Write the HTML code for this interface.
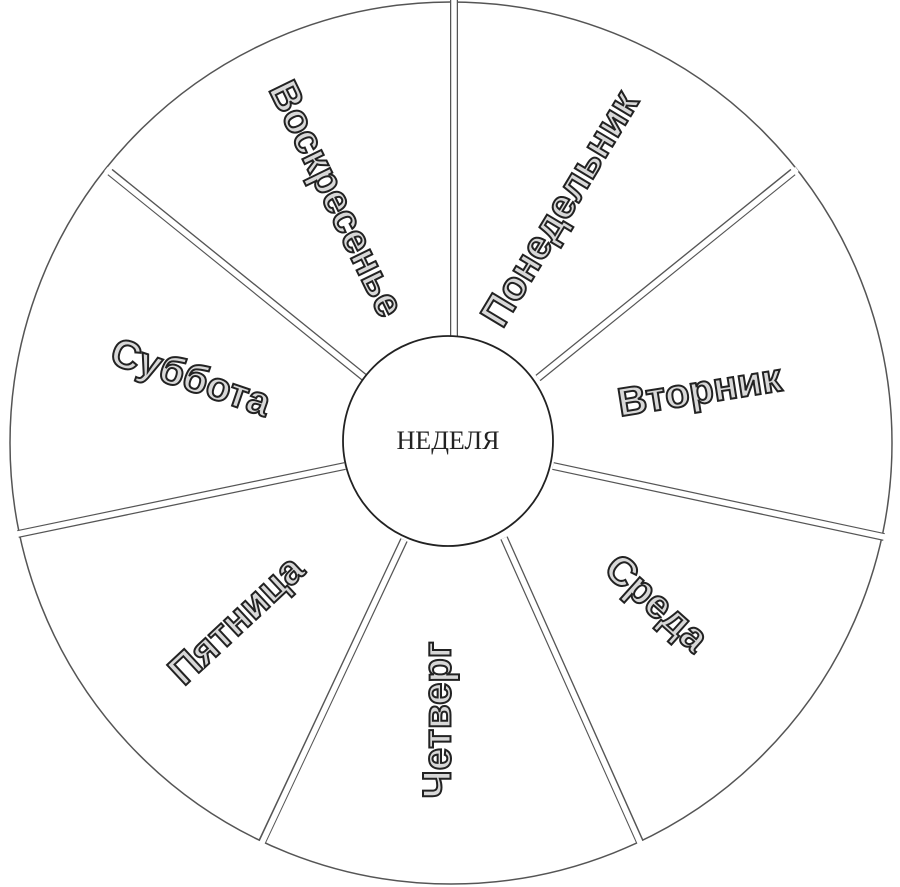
<!DOCTYPE html>
<html><head><meta charset="utf-8"><style>
html,body{margin:0;padding:0;background:#fff;}
svg{display:block;}
.lbl{font-family:"Liberation Sans",sans-serif;font-weight:bold;font-size:40px;fill:#d8d8d8;stroke:#222;stroke-width:2;text-anchor:middle;dominant-baseline:middle;}
</style></head><body>
<svg width="900" height="887" viewBox="0 0 900 887" xmlns="http://www.w3.org/2000/svg">
<circle cx="451" cy="443" r="441" fill="#fff" stroke="#555" stroke-width="1.5"/>
<g stroke-linecap="butt">
<g stroke="#555" stroke-width="8">
<line x1="454" y1="0" x2="454" y2="338"/>
<line x1="793" y1="172" x2="538" y2="378"/>
<line x1="884" y1="537" x2="553" y2="466"/>
<line x1="640" y1="842" x2="504" y2="538"/>
<line x1="262" y1="842" x2="404" y2="540"/>
<line x1="18" y1="534" x2="345" y2="466"/>
<line x1="110" y1="172" x2="365" y2="378"/>
</g>
<g stroke="#fff" stroke-width="5.5">
<line x1="454" y1="-5" x2="454" y2="338"/>
<line x1="797" y1="169" x2="538" y2="378"/>
<line x1="889" y1="538" x2="553" y2="466"/>
<line x1="642" y1="847" x2="504" y2="538"/>
<line x1="260" y1="847" x2="404" y2="540"/>
<line x1="13" y1="535" x2="345" y2="466"/>
<line x1="106" y1="169" x2="365" y2="378"/>
</g>
</g>
<circle cx="448" cy="441" r="105" fill="#fff" stroke="#222" stroke-width="1.8"/>
<text x="448" y="443" font-family="Liberation Serif,serif" font-size="26" text-anchor="middle" dominant-baseline="middle" fill="#222">НЕДЕЛЯ</text>
<text class="lbl" transform="translate(562,210) rotate(-59)">Понедельник</text>
<text class="lbl" transform="translate(334,200) rotate(64)">Воскресенье</text>
<text class="lbl" transform="translate(700,393) rotate(-9)">Вторник</text>
<text class="lbl" transform="translate(190,380) rotate(19)">Суббота</text>
<text class="lbl" transform="translate(655,605) rotate(42)">Среда</text>
<text class="lbl" transform="translate(238,622) rotate(-43)">Пятница</text>
<text class="lbl" transform="translate(440,720) rotate(-90)">Четверг</text>
</svg>
</body></html>
